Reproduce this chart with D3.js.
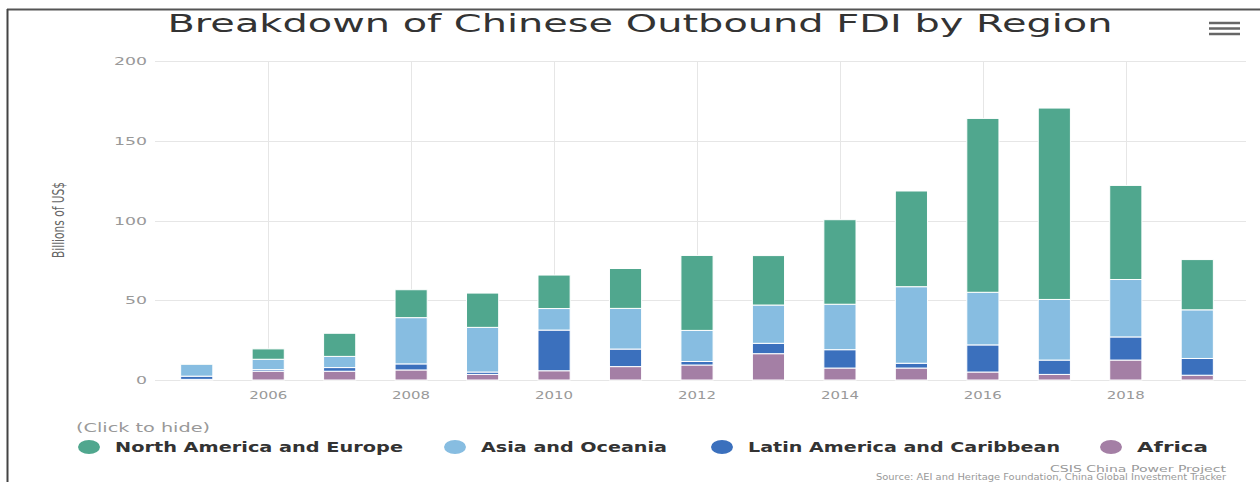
<!DOCTYPE html>
<html>
<head>
<meta charset="utf-8">
<script src="https://cdn.jsdelivr.net/npm/d3@7"></script>
<style>
  body { margin: 0; background: #fff; }
  svg { display: block; }
</style>
</head>
<body>
<div id="chart"></div>
<script>
const YEARS = ['2005', '2006', '2007', '2008', '2009', '2010', '2011', '2012', '2013', '2014', '2015', '2016', '2017', '2018', '2019'];
const NORTH_AMERICA_EUROPE = [0.5, 6.5, 14.5, 17.5, 21.5, 21, 25, 47, 31, 53, 60, 109, 120, 59, 31.5];
const ASIA_OCEANIA = [7.5, 6.5, 7, 29, 28, 13.5, 25.5, 19.5, 24, 28.5, 48, 33, 38, 36, 30.5];
const LATIN_AMERICA = [2, 1, 2.3, 3.8, 1.5, 25.5, 11, 2.2, 6.5, 11.5, 3, 17, 9, 14.5, 10.5];
const AFRICA = [0.4, 5.5, 5.5, 6.3, 3.5, 5.8, 8.4, 9.4, 16.5, 7.5, 7.5, 5, 3.5, 12.5, 3];
const Y_TICKS = [0, 50, 100, 150, 200];
const X_TICKS = ['2006', '2008', '2010', '2012', '2014', '2016', '2018'];
const SERIES_NAMES = ['North America and Europe', 'Asia and Oceania', 'Latin America and Caribbean', 'Africa'];
const SERIES_COLORS = ['#50a78e', '#87bde1', '#3b70bd', '#a47fa5'];

const width = 1260;
const height = 482;
const plot = {
  left: 155, right: 1246, top: 61, bottom: 380,
};

const svg = d3.select('#chart')
  .append('svg')
  .attr('width', width)
  .attr('height', height)
  .style('font-family', "'DejaVu Sans', sans-serif");

// frame lines of the screenshot
svg.append('line')
  .attr('x1', 7).attr('x2', width).attr('y1', 9.5).attr('y2', 9.5)
  .attr('stroke', '#555').attr('stroke-width', 2);
svg.append('line')
  .attr('x1', 7.5).attr('x2', 7.5).attr('y1', 9).attr('y2', height)
  .attr('stroke', '#444').attr('stroke-width', 2);

const x = d3.scaleBand()
  .domain(YEARS)
  .range([161, 1233])
  .paddingInner(0.55)
  .paddingOuter(0.275);

const y = d3.scaleLinear()
  .domain([0, 200])
  .range([plot.bottom, plot.top]);

// horizontal grid
svg.append('g')
  .selectAll('line')
  .data(Y_TICKS)
  .join('line')
  .attr('x1', plot.left)
  .attr('x2', plot.right)
  .attr('y1', (d) => Math.round(y(d)) + 0.5)
  .attr('y2', (d) => Math.round(y(d)) + 0.5)
  .attr('stroke', '#e6e6e6');

// vertical grid on even years
svg.append('g')
  .selectAll('line')
  .data(X_TICKS)
  .join('line')
  .attr('x1', (d) => Math.round(x(d) + x.bandwidth() / 2) + 0.5)
  .attr('x2', (d) => Math.round(x(d) + x.bandwidth() / 2) + 0.5)
  .attr('y1', plot.top)
  .attr('y2', plot.bottom)
  .attr('stroke', '#e6e6e6');

// y labels
svg.append('g')
  .selectAll('text')
  .data(Y_TICKS)
  .join('text')
  .attr('x', 147)
  .attr('y', (d) => y(d) + 4)
  .attr('text-anchor', 'end')
  .attr('font-size', 11)
  .attr('fill', '#999')
  .attr('textLength', (d) => String(d).length * 11)
  .attr('lengthAdjust', 'spacingAndGlyphs')
  .text((d) => d);

// x labels
svg.append('g')
  .selectAll('text')
  .data(X_TICKS)
  .join('text')
  .attr('x', (d) => x(d) + x.bandwidth() / 2)
  .attr('y', 399)
  .attr('text-anchor', 'middle')
  .attr('font-size', 11)
  .attr('fill', '#999')
  .attr('textLength', 38)
  .attr('lengthAdjust', 'spacingAndGlyphs')
  .text((d) => d);

// stacked bars, africa at the bottom
const rows = YEARS.map((yr, i) => ({
  year: yr,
  a: AFRICA[i],
  b: LATIN_AMERICA[i],
  c: ASIA_OCEANIA[i],
  d: NORTH_AMERICA_EUROPE[i],
}));
const stack = d3.stack().keys(['a', 'b', 'c', 'd'])(rows);
const stackColors = [SERIES_COLORS[3], SERIES_COLORS[2], SERIES_COLORS[1], SERIES_COLORS[0]];

svg.append('g')
  .selectAll('g')
  .data(stack)
  .join('g')
  .attr('fill', (d, i) => stackColors[i])
  .selectAll('rect')
  .data((d) => d)
  .join('rect')
  .attr('x', (d) => x(d.data.year))
  .attr('width', x.bandwidth())
  .attr('y', (d) => y(d[1]))
  .attr('height', (d) => Math.max(0, y(d[0]) - y(d[1])))
  .attr('stroke', '#fff')
  .attr('stroke-width', 1);

// title
svg.append('text')
  .attr('x', 640)
  .attr('y', 32)
  .attr('text-anchor', 'middle')
  .attr('font-size', 25)
  .attr('fill', '#333')
  .attr('textLength', 945)
  .attr('lengthAdjust', 'spacingAndGlyphs')
  .text('Breakdown of Chinese Outbound FDI by Region');

// menu icon
svg.append('g')
  .selectAll('line')
  .data([23, 28.5, 34])
  .join('line')
  .attr('x1', 1209)
  .attr('x2', 1240)
  .attr('y1', (d) => d)
  .attr('y2', (d) => d)
  .attr('stroke', '#666')
  .attr('stroke-width', 2.5);

// y axis title
svg.append('text')
  .attr('transform', 'translate(64,220) rotate(-90)')
  .attr('text-anchor', 'middle')
  .attr('font-size', 15)
  .attr('fill', '#666')
  .attr('textLength', 76)
  .attr('lengthAdjust', 'spacingAndGlyphs')
  .text('Billions of US$');

// legend
svg.append('text')
  .attr('x', 76)
  .attr('y', 432)
  .attr('font-size', 12)
  .attr('fill', '#999')
  .attr('textLength', 134)
  .attr('lengthAdjust', 'spacingAndGlyphs')
  .text('(Click to hide)');

const legendX = [89, 455, 722, 1111];
const legendLen = [288, 186, 312, 71];
const legend = svg.append('g')
  .selectAll('g')
  .data(SERIES_NAMES)
  .join('g')
  .attr('transform', (d, i) => `translate(${legendX[i]},447)`);
legend.append('ellipse')
  .attr('rx', 11)
  .attr('ry', 7)
  .attr('fill', (d, i) => SERIES_COLORS[i]);
legend.append('text')
  .attr('x', 26)
  .attr('y', 5)
  .attr('font-size', 14)
  .attr('font-weight', 'bold')
  .attr('fill', '#333')
  .attr('textLength', (d, i) => legendLen[i])
  .attr('lengthAdjust', 'spacingAndGlyphs')
  .text((d) => d);

// credits
svg.append('text')
  .attr('x', 1226)
  .attr('y', 472)
  .attr('text-anchor', 'end')
  .attr('font-size', 9.5)
  .attr('fill', '#999')
  .attr('textLength', 176)
  .attr('lengthAdjust', 'spacingAndGlyphs')
  .text('CSIS China Power Project');
svg.append('text')
  .attr('x', 1226)
  .attr('y', 480)
  .attr('text-anchor', 'end')
  .attr('font-size', 8)
  .attr('fill', '#999')
  .attr('textLength', 350)
  .attr('lengthAdjust', 'spacingAndGlyphs')
  .text('Source: AEI and Heritage Foundation, China Global Investment Tracker');
</script>
</body>
</html>
